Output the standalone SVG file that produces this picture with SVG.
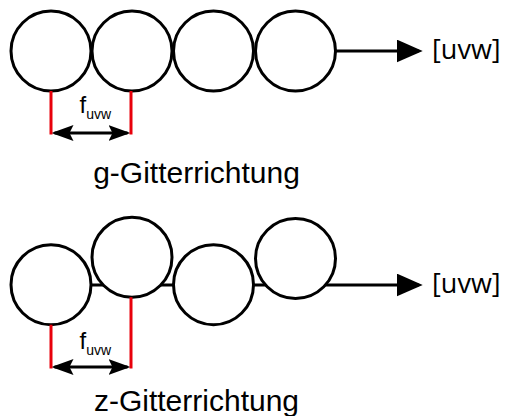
<svg xmlns="http://www.w3.org/2000/svg" width="505" height="416" viewBox="0 0 505 416">
<style>
.atom{fill:#fff;stroke:#000;stroke-width:3}
.ln{stroke:#000;stroke-width:3;fill:none}
.red{stroke:#e8000b;stroke-width:3;fill:none}
.lbl{font-family:"Liberation Sans",Arial,sans-serif;fill:#000}
.dir{font-family:"Open Sans","Liberation Sans",sans-serif;font-size:27px;fill:#000}
</style>
<defs>
<marker id="big" markerUnits="userSpaceOnUse" viewBox="0 0 26 23" markerWidth="26" markerHeight="23" refX="22" refY="11.5" orient="auto"><path d="M0,0 L26,11.5 L0,23 Z" fill="#000"/></marker>
<marker id="dbl" markerUnits="userSpaceOnUse" viewBox="0 0 22 16" markerWidth="22" markerHeight="16" refX="19" refY="8" orient="auto-start-reverse"><path d="M0,0 L22,8 L0,16 L4,8 Z" fill="#000"/></marker>
</defs>
<g id="connectors">
<line class="ln" x1="336" y1="51" x2="418.7" y2="51" marker-end="url(#big)"/>
<line class="ln" x1="92" y1="285" x2="418.7" y2="285" marker-end="url(#big)"/>
<line class="ln" x1="54.5" y1="133" x2="127.5" y2="133" marker-start="url(#dbl)" marker-end="url(#dbl)"/>
<line class="ln" x1="54.5" y1="367" x2="127.5" y2="367" marker-start="url(#dbl)" marker-end="url(#dbl)"/>
</g>
<g id="row-g">
<g id="g-atom1"><circle class="atom" cx="51" cy="51" r="40"/></g>
<g id="g-atom2"><circle class="atom" cx="132" cy="51" r="40"/></g>
<g id="g-atom3"><circle class="atom" cx="213.5" cy="51" r="40"/></g>
<g id="g-atom4"><circle class="atom" cx="295.5" cy="51" r="40"/></g>
</g>
<g id="row-z">
<g id="z-atom1"><circle class="atom" cx="51" cy="284.7" r="40"/></g>
<g id="z-atom2"><circle class="atom" cx="132" cy="257.2" r="40"/></g>
<g id="z-atom3"><circle class="atom" cx="213.5" cy="284.7" r="40"/></g>
<g id="z-atom4"><circle class="atom" cx="295.5" cy="258.5" r="40"/></g>
</g>
<g id="markers-red">
<line class="red" x1="51" y1="91" x2="51" y2="134.5"/>
<line class="red" x1="131" y1="91" x2="131" y2="134.5"/>
<line class="red" x1="51" y1="324.7" x2="51" y2="368.5"/>
<line class="red" x1="131" y1="297.2" x2="131" y2="368.5"/>
</g>
<g id="labels">
<text class="lbl" x="79.5" y="112.7" font-size="24">f<tspan font-size="14" dy="5.8">uvw</tspan></text>
<text class="lbl" x="79.5" y="349.3" font-size="24">f<tspan font-size="14" dy="5.8">uvw</tspan></text>
<text class="lbl" x="196.5" y="182.5" font-size="30" text-anchor="middle">g-Gitterrichtung</text>
<text class="lbl" x="196.5" y="410.5" font-size="30" text-anchor="middle">z-Gitterrichtung</text>
<text class="dir" x="432" y="59">[uvw]</text>
<text class="dir" x="432" y="293">[uvw]</text>
</g>
</svg>
